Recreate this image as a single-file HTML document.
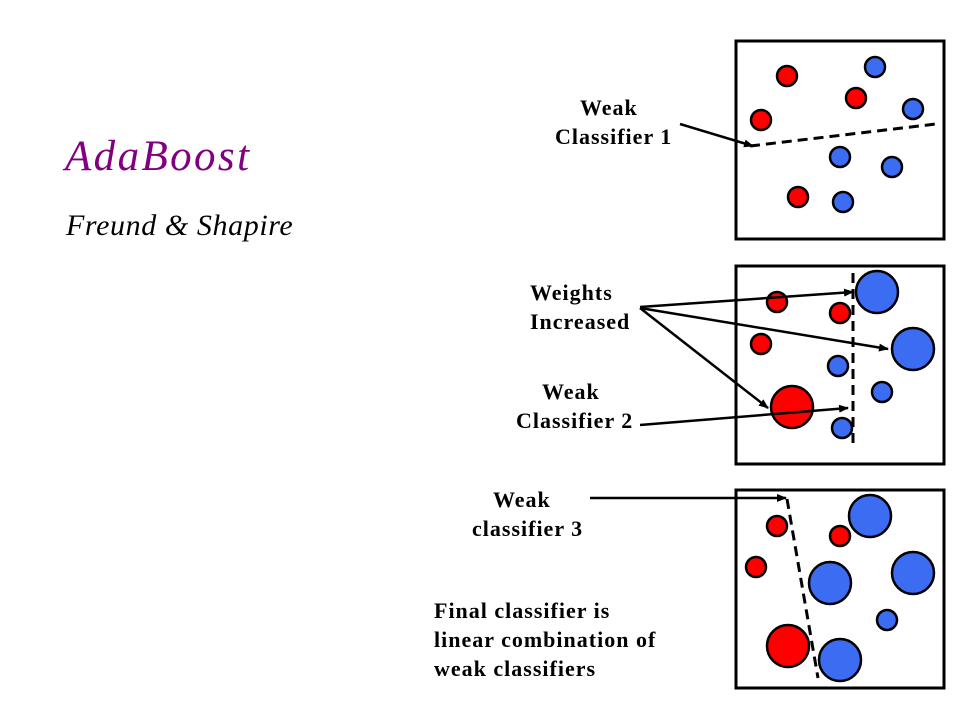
<!DOCTYPE html>
<html><head><meta charset="utf-8"><style>
html,body{margin:0;padding:0;background:#fff;}
svg{display:block;}
text{font-family:"Liberation Serif",serif;}
.l{font-weight:bold;font-size:22px;fill:#000;letter-spacing:1px;}
</style></head><body>
<svg width="960" height="720" viewBox="0 0 960 720" xmlns="http://www.w3.org/2000/svg">
<defs><marker id="a" markerWidth="10" markerHeight="8" refX="9" refY="4" orient="auto" markerUnits="userSpaceOnUse"><path d="M0,0 L10,4 L0,8 z" fill="#000"/></marker></defs>
<text x="65" y="170" font-size="43" font-style="italic" fill="#800080" letter-spacing="2.4">AdaBoost</text>
<text x="66" y="235" font-size="30" font-style="italic" fill="#000" letter-spacing="0.6">Freund &amp; Shapire</text>

<g stroke="#000" stroke-width="3" fill="none">
<rect x="736" y="41" width="208" height="198"/>
<rect x="736" y="266" width="208" height="198"/>
<rect x="736" y="490" width="208" height="198"/>
</g>
<g stroke="#000" stroke-width="3" fill="none" stroke-dasharray="10,6">
<line x1="750" y1="146" x2="936" y2="124"/>
<line x1="853" y1="273" x2="853" y2="445"/>
<line x1="787" y1="499" x2="818" y2="678"/>
</g>
<g stroke="#000" stroke-width="2.5">
<circle cx="787" cy="76" r="10" fill="#f00"/>
<circle cx="875" cy="67" r="10" fill="#3b6cf2"/>
<circle cx="856" cy="98" r="10" fill="#f00"/>
<circle cx="913" cy="109" r="10" fill="#3b6cf2"/>
<circle cx="761" cy="120" r="10" fill="#f00"/>
<circle cx="840" cy="157" r="10" fill="#3b6cf2"/>
<circle cx="892" cy="167" r="10" fill="#3b6cf2"/>
<circle cx="798" cy="197" r="10" fill="#f00"/>
<circle cx="843" cy="202" r="10" fill="#3b6cf2"/>

<circle cx="777" cy="302" r="10" fill="#f00"/>
<circle cx="840" cy="313" r="10" fill="#f00"/>
<circle cx="877" cy="292" r="21" fill="#3b6cf2"/>
<circle cx="761" cy="344" r="10" fill="#f00"/>
<circle cx="913" cy="349" r="21" fill="#3b6cf2"/>
<circle cx="838" cy="366" r="10" fill="#3b6cf2"/>
<circle cx="882" cy="392" r="10" fill="#3b6cf2"/>
<circle cx="792" cy="407" r="21" fill="#f00"/>
<circle cx="842" cy="428" r="10" fill="#3b6cf2"/>

<circle cx="777" cy="526" r="10" fill="#f00"/>
<circle cx="870" cy="516" r="21" fill="#3b6cf2"/>
<circle cx="840" cy="536" r="10" fill="#f00"/>
<circle cx="756" cy="567" r="10" fill="#f00"/>
<circle cx="830" cy="583" r="21" fill="#3b6cf2"/>
<circle cx="913" cy="573" r="21" fill="#3b6cf2"/>
<circle cx="887" cy="620" r="10" fill="#3b6cf2"/>
<circle cx="788" cy="646" r="21" fill="#f00"/>
<circle cx="840" cy="660" r="21" fill="#3b6cf2"/>
</g>
<g stroke="#000" stroke-width="2.5" marker-end="url(#a)">
<line x1="680" y1="124" x2="753" y2="146"/>
<line x1="640" y1="307" x2="853" y2="292"/>
<line x1="640" y1="308" x2="888" y2="349"/>
<line x1="640" y1="308" x2="768" y2="408"/>
<line x1="640" y1="425" x2="848" y2="408"/>
<line x1="590" y1="498" x2="786" y2="498"/>
</g>
<text class="l" x="580" y="115">Weak</text>
<text class="l" x="555" y="144">Classifier 1</text>
<text class="l" x="530" y="300">Weights</text>
<text class="l" x="530" y="329">Increased</text>
<text class="l" x="542" y="399">Weak</text>
<text class="l" x="516" y="428">Classifier 2</text>
<text class="l" x="493" y="507">Weak</text>
<text class="l" x="472" y="536">classifier 3</text>
<text class="l" x="434" y="618">Final classifier is</text>
<text class="l" x="434" y="647">linear combination of</text>
<text class="l" x="434" y="676">weak classifiers</text>
</svg>
</body></html>
